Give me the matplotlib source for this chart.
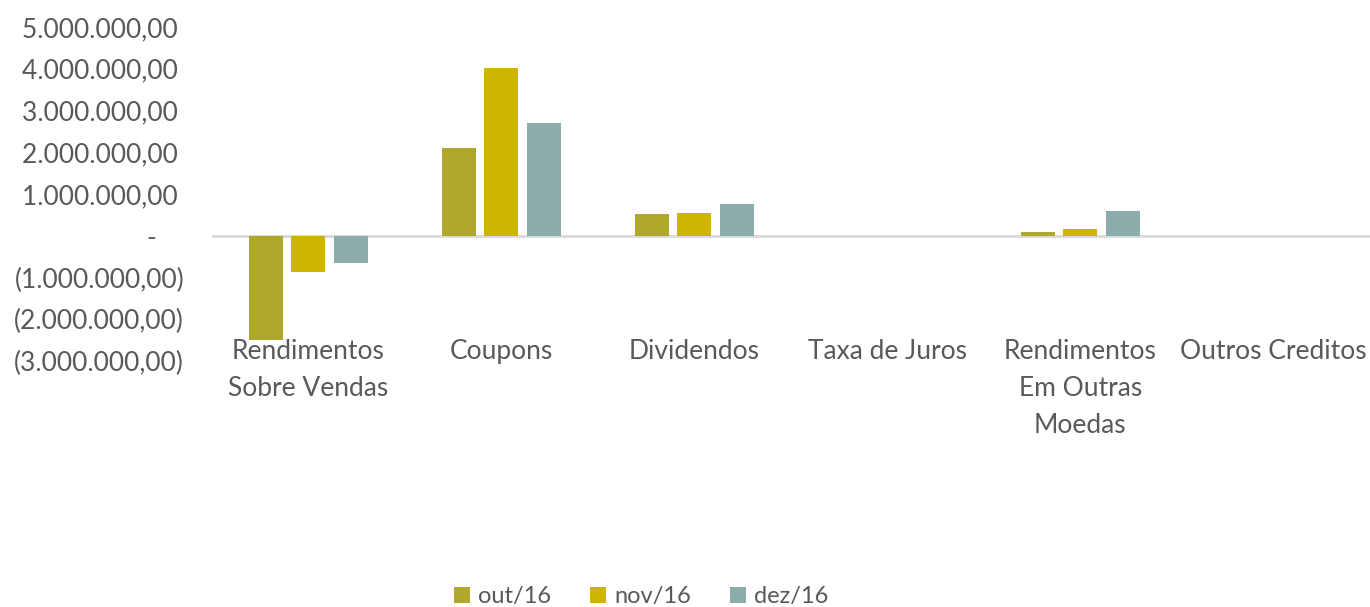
import matplotlib
matplotlib.use("Agg")
import matplotlib.pyplot as plt
import numpy as np
from matplotlib.ticker import FuncFormatter, FixedLocator

plt.rcParams['font.family'] = ['Lato', 'DejaVu Sans']

categories = ["Rendimentos\nSobre Vendas", "Coupons", "Dividendos", "Taxa de Juros",
              "Rendimentos\nEm Outras\nMoedas", "Outros Creditos"]
series_names = ["out/16", "nov/16", "dez/16"]
out16 = [-2500000, 2110000, 510000, 0, 100000, 0]
nov16 = [-860000, 4030000, 540000, 0, 170000, 0]
dez16 = [-650000, 2690000, 760000, 0, 590000, 0]
colors = ["#B0A82D", "#D0B500", "#8CADAC"]
yticks = [-3000000, -2000000, -1000000, 0, 1000000, 2000000, 3000000, 4000000, 5000000]

text_color = "#595959"

fig = plt.figure(figsize=(13.7, 6.07), dpi=100)
ax = fig.add_axes([0.1547, 0.4053, 0.845, 0.5502])

x = np.arange(len(categories))
width = 0.176
offset = 0.22
for i, (vals, name, c) in enumerate(zip([out16, nov16, dez16], series_names, colors)):
    ax.bar(x + (i - 1) * offset, vals, width, color=c, label=name,
           linewidth=0, zorder=2)

ax.axhline(0, color="#D9D9D9", linewidth=2, zorder=1)
ax.set_xlim(-0.5, len(categories) - 0.5)
ax.set_ylim(-3000000, 5000000)

def fmt(v, pos=None):
    if abs(v) < 1:
        return "-    "
    s = f"{abs(v):,.2f}".replace(",", "X").replace(".", ",").replace("X", ".")
    if v < 0:
        return f"({s})"
    return s + " "

ax.yaxis.set_major_locator(FixedLocator(yticks))
ax.yaxis.set_major_formatter(FuncFormatter(fmt))
ax.tick_params(axis='y', length=0, pad=20, labelsize=19, labelcolor=text_color)

ax.set_xticks(x)
ax.set_xticklabels(categories, linespacing=1.6)
ax.tick_params(axis='x', length=0, pad=-16, labelsize=19, labelcolor=text_color)
for spine in ax.spines.values():
    spine.set_visible(False)

leg = fig.legend(loc='lower center', bbox_to_anchor=(0.468, -0.035), ncol=3, frameon=False,
                 fontsize=17, handlelength=0.68, handleheight=0.68, handletextpad=0.34,
                 columnspacing=1.65)
for t in leg.get_texts():
    t.set_color(text_color)

fig.savefig("out.png", dpi=100)
